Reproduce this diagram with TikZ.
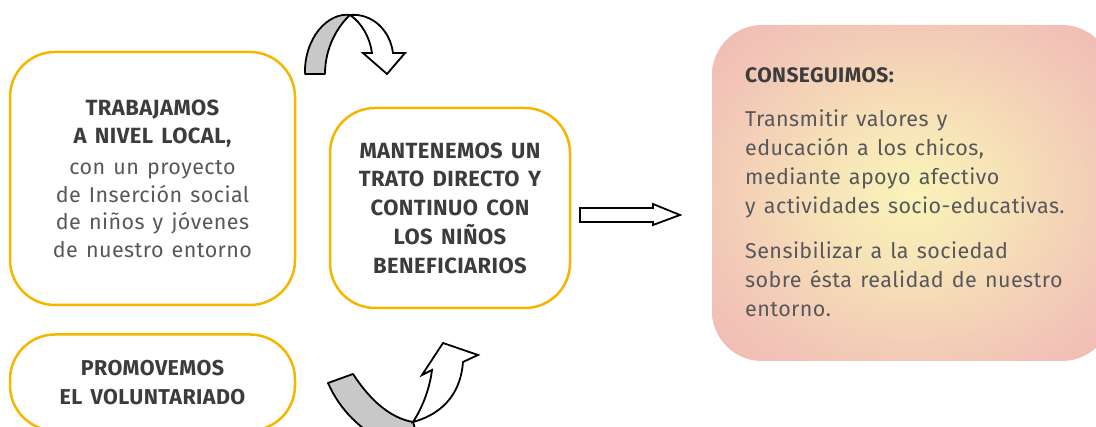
\documentclass[tikz,border=0pt]{standalone}
\usepackage{fontspec}
\setmainfont{Fira Sans}[LetterSpace=2]
\usetikzlibrary{positioning, calc}

\definecolor{boxline}{RGB}{246,182,0}
\definecolor{txtdark}{RGB}{60,60,62}
\definecolor{txtgray}{RGB}{88,88,92}
\definecolor{glowyellow}{RGB}{250,243,184}
\definecolor{glowpeach}{RGB}{243,208,183}
\definecolor{glowpink}{RGB}{239,179,182}
\definecolor{bandgray}{RGB}{200,200,200}

\newcommand{\widespace}{\spaceskip=0.38em\relax}

\pgfdeclareradialshading{glow}{\pgfpoint{0bp}{0bp}}{color(0bp)=(glowyellow); color(10bp)=(glowyellow!60!glowpeach); color(26bp)=(glowpeach!70!glowpink); color(40bp)=(glowpink); color(50bp)=(glowpink)}

\begin{document}
\begin{tikzpicture}[x=1pt, y=-1pt,
    stagebox/.style={draw=boxline, line width=2.5pt, rounded corners=45pt, fill=white, align=center, inner sep=0pt},
    band/.style={draw=black, line width=1.8pt, fill=bandgray, line join=round},
    blockarrow/.style={draw=black, line width=1.8pt, fill=white, line join=miter}]

  \useasboundingbox (0,0) rectangle (1096,427);
  \clip (0,0) rectangle (1096,427);

  % left column
  \node[stagebox, minimum width=285pt, minimum height=253pt, text width=265pt] (local) at (152.5,178.5) {%
    {\bfseries\color{txtdark}\fontsize{22}{28}\selectfont\widespace TRABAJAMOS\\A NIVEL LOCAL,\par}
    \vspace{4pt}
    {\color{txtgray}\fontsize{21.5}{27.5}\selectfont\widespace con un proyecto\\de Inserción social\\de niños y jóvenes\\de nuestro entorno\par}};
  \node[stagebox, minimum width=285pt, minimum height=96pt, text width=265pt, below=27pt of local] (volunt) {%
    {\bfseries\color{txtdark}\fontsize{21.5}{29}\selectfont\widespace PROMOVEMOS\\EL VOLUNTARIADO\par}};

  % middle
  \node[stagebox, minimum width=240pt, minimum height=200pt, text width=225pt] (trato) at (450,208) {%
    {\bfseries\color{txtdark}\fontsize{22}{28.7}\selectfont\widespace MANTENEMOS UN\\TRATO DIRECTO Y\\CONTINUO CON\\LOS NIÑOS\\BENEFICIARIOS\par}};

  % right
  \node[rounded corners=50pt, shading=glow, minimum width=400pt, minimum height=336pt] (goal) at (912,193) {};
  \node[anchor=base west, text width=345pt, align=left, inner sep=0pt] (goaltext) at (745,83) {%
    {\bfseries\color{txtdark}\fontsize{21}{29}\selectfont CONSEGUIMOS:\par}
    \vspace{15pt}
    {\color{txtgray}\fontsize{21.5}{29}\selectfont\widespace Transmitir valores y\\educación a los chicos,\\mediante apoyo afectivo\\y actividades socio-educativas.\par}
    \vspace{16pt}
    {\color{txtgray}\fontsize{21.5}{29}\selectfont\widespace Sensibilizar a la sociedad\\sobre ésta realidad de nuestro\\entorno.\par}};

  % curved arrow on top
  \draw[band] (305,74) .. controls (304,38) and (328,12) .. (350,15)
    .. controls (338,26) and (325,47) .. (325,74) -- cycle;
  \draw[blockarrow] (350,15) .. controls (372,13) and (390,30) .. (393,53) -- (405,53) -- (387,74)
    -- (363,53) -- (372,53) .. controls (370,38) and (362,23) .. (350,15) -- cycle;

  % curved arrow at the bottom
  \draw[band] (328,383) -- (353,374) .. controls (370,400) and (390,418) .. (413,422)
    -- (420,445) -- (390,445) .. controls (360,430) and (340,410) .. (328,383) -- cycle;
  \draw[blockarrow] (413,422) .. controls (424,405) and (430,386) .. (432,370) -- (422,375) -- (443,343)
    -- (478,355) -- (463,362) .. controls (461,390) and (446,413) .. (413,422) -- cycle;

  % straight arrow
  \draw[blockarrow] (580,208) -- (653,208) -- (653,204) -- (680,215) -- (653,225) -- (653,222)
    -- (580,222) -- cycle;
\end{tikzpicture}
\end{document}
